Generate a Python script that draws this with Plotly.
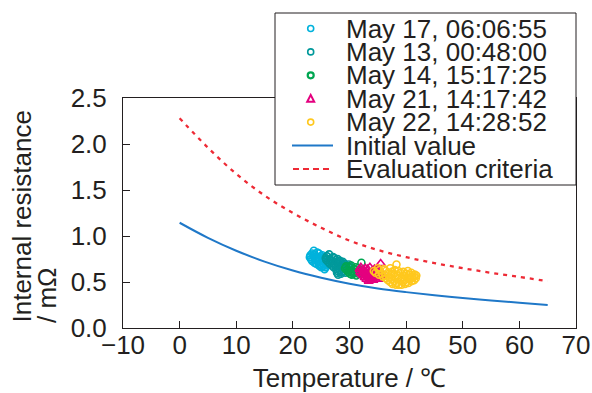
import plotly.graph_objects as go

# ---------------- data ----------------
curve_temp = [0, 5, 10, 15, 20, 25, 30, 35, 40, 45, 50, 55, 60, 65]
initial_value = [1.144, 0.980, 0.840, 0.722, 0.625, 0.547, 0.482, 0.430, 0.390, 0.356, 0.327, 0.300, 0.274, 0.250]
evaluation_criteria = [2.28, 1.96, 1.675, 1.44, 1.25, 1.09, 0.950, 0.848, 0.770, 0.705, 0.650, 0.600, 0.555, 0.510]

names = ["May 17, 06:06:55", "May 13, 00:48:00", "May 14, 15:17:25",
         "May 21, 14:17:42", "May 22, 14:28:52"]

may17_t = [23.7,
           23.4, 24.3,
           23.1, 23.8, 24.6, 25.2,
           23.0, 23.6, 24.2, 24.9, 25.5, 26.0,
           23.2, 23.9, 24.5, 25.1, 25.7, 26.2,
           23.4, 24.0, 24.7, 25.3, 25.9,
           23.8, 24.4, 25.0, 25.6, 26.1,
           24.1, 24.8, 25.4, 26.0,
           24.6, 25.2, 25.8,
           25.0, 25.6, 25.5]
may17_r = [0.84,
           0.81, 0.82,
           0.79, 0.80, 0.81, 0.79,
           0.77, 0.78, 0.77, 0.78, 0.77, 0.78,
           0.75, 0.76, 0.75, 0.76, 0.75, 0.74,
           0.73, 0.74, 0.73, 0.74, 0.72,
           0.71, 0.72, 0.71, 0.72, 0.70,
           0.70, 0.69, 0.70, 0.68,
           0.68, 0.67, 0.66,
           0.66, 0.64, 0.68]

may13_t = [26.4,
           26.0, 27.1,
           25.8, 26.5, 27.3, 27.9,
           25.9, 26.8, 27.6, 28.3, 28.8,
           26.2, 27.0, 27.8, 28.5, 29.1,
           26.5, 27.3, 28.1, 28.8, 29.4, 29.9,
           26.9, 27.6, 28.4, 29.1, 29.7, 30.2,
           27.2, 28.0, 28.7, 29.4, 30.0,
           27.6, 28.3, 29.0, 29.7,
           27.9, 28.6, 29.3,
           27.8, 28.5,
           28.0]
may13_r = [0.80,
           0.78, 0.77,
           0.76, 0.75, 0.76, 0.75,
           0.74, 0.73, 0.74, 0.73, 0.72,
           0.72, 0.71, 0.72, 0.71, 0.70,
           0.70, 0.69, 0.70, 0.69, 0.68, 0.69,
           0.68, 0.67, 0.68, 0.66, 0.67, 0.66,
           0.66, 0.65, 0.64, 0.65, 0.63,
           0.64, 0.63, 0.62, 0.61,
           0.62, 0.61, 0.60,
           0.60, 0.59,
           0.58]

may14_t = [32.1,
           29.4, 30.3, 31.1,
           29.2, 30.0, 30.8, 31.5,
           29.5, 30.3, 31.1, 31.7,
           29.8, 30.6, 31.4,
           30.1, 30.9, 31.6,
           30.4, 31.2,
           30.7]
may14_r = [0.71,
           0.67, 0.68, 0.66,
           0.65, 0.66, 0.64, 0.65,
           0.63, 0.62, 0.63, 0.62,
           0.61, 0.60, 0.61,
           0.59, 0.60, 0.59,
           0.58, 0.57,
           0.59]

may21_t = [35.5,
           32.0, 32.8, 33.6, 34.4,
           31.8, 32.5, 33.2, 34.0, 34.8, 35.4,
           31.9, 32.6, 33.4, 34.2, 35.0, 35.6,
           32.1, 32.9, 33.7, 34.5, 35.2, 35.8,
           32.4, 33.2, 34.0, 34.8, 35.5,
           32.7, 33.5, 34.3, 35.1,
           33.0, 33.8, 34.6,
           33.4, 34.2]
may21_r = [0.70,
           0.66, 0.65, 0.66, 0.64,
           0.64, 0.63, 0.64, 0.62, 0.63, 0.62,
           0.61, 0.62, 0.60, 0.61, 0.60, 0.61,
           0.59, 0.58, 0.59, 0.58, 0.59, 0.57,
           0.57, 0.56, 0.57, 0.55, 0.56,
           0.55, 0.54, 0.55, 0.53,
           0.53, 0.52, 0.53,
           0.51, 0.52]

may22_t = [38.3,
           35.0, 36.1, 37.2, 38.0,
           34.3, 35.3, 36.4, 37.5, 38.6, 39.5, 40.3,
           34.6, 35.7, 36.8, 37.9, 39.0, 40.0, 40.9, 41.5,
           35.2, 36.3, 37.4, 38.5, 39.6, 40.6, 41.4, 41.8,
           35.9, 37.0, 38.1, 39.2, 40.3, 41.1, 41.7,
           36.4, 37.5, 38.6, 39.7, 40.7, 41.4,
           36.8, 37.9, 39.0, 40.1, 41.0,
           37.2, 38.3, 39.4, 40.4,
           37.6, 38.7, 39.8,
           38.2, 39.2]
may22_r = [0.69,
           0.65, 0.64, 0.65, 0.63,
           0.62, 0.63, 0.62, 0.61, 0.62, 0.61, 0.62,
           0.60, 0.59, 0.60, 0.59, 0.60, 0.59, 0.60, 0.58,
           0.58, 0.57, 0.58, 0.57, 0.57, 0.58, 0.56, 0.57,
           0.56, 0.55, 0.56, 0.55, 0.54, 0.55, 0.54,
           0.54, 0.53, 0.54, 0.52, 0.53, 0.52,
           0.52, 0.51, 0.52, 0.50, 0.51,
           0.50, 0.49, 0.50, 0.49,
           0.48, 0.47, 0.48,
           0.47, 0.47]

x_ticks = [-10, 0, 10, 20, 30, 40, 50, 60, 70]
y_ticks = [0.0, 0.5, 1.0, 1.5, 2.0, 2.5]

# ---------------- style ----------------
FONT = "Liberation Sans, Arial, sans-serif"
INK = "#231f20"
colors = ["#00b2dc", "#00999b", "#00a651", "#e4007f", "#ffc81e"]
symbols = ["circle-open", "circle-open", "circle-open", "triangle-up-open", "circle-open"]
BLUE = "#1f78c8"
RED = "#ee2a35"

W, H = 592, 393
L, R, T, B = 123, 16, 98, 65
PW, PH = W - L - R, H - T - B


def px(xp):
    return (xp - L) / PW


def py(yp):
    return (H - B - yp) / PH


fig = go.Figure()

fig.add_trace(go.Scatter(x=curve_temp, y=initial_value, mode="lines", name="Initial value",
                         showlegend=False, line=dict(color=BLUE, width=2, shape="spline")))
fig.add_trace(go.Scatter(x=curve_temp, y=evaluation_criteria, mode="lines",
                         name="Evaluation criteria", showlegend=False,
                         line=dict(color=RED, width=2.3, dash="4px,5px", shape="spline")))

series = [(may17_t, may17_r), (may13_t, may13_r), (may14_t, may14_r),
          (may21_t, may21_r), (may22_t, may22_r)]
for (t, r), name, c, s in zip(series, names, colors, symbols):
    fig.add_trace(go.Scatter(
        x=t, y=r, mode="markers", name=name, showlegend=False,
        marker=dict(symbol=s, size=8 if "triangle" in s else 7, color=c,
                    line=dict(width=1.6, color=c))))

axis_common = dict(showline=True, linecolor=INK, linewidth=1, mirror=True,
                   ticks="inside", ticklen=7, tickwidth=1, tickcolor=INK,
                   showgrid=False, zeroline=False,
                   tickfont=dict(family=FONT, size=26, color=INK))

fig.update_xaxes(range=[-10, 70], tickvals=x_ticks,
                 ticktext=[str(v).replace("-", "\u2212") for v in x_ticks],
                 title=dict(text="Temperature / \u2103", font=dict(family=FONT, size=26, color=INK), standoff=14),
                 ticklabelstandoff=-6, **axis_common)
fig.update_yaxes(range=[0, 2.5], tickvals=y_ticks, ticktext=[f"{v:.1f}" for v in y_ticks],
                 ticklabelstandoff=10, **axis_common)

# ---------------- custom legend (tight rows like the reference) ----------------
shapes = [dict(type="rect", xref="paper", yref="paper", layer="above",
               x0=px(275), x1=px(576), y0=py(185), y1=py(13),
               fillcolor="white", line=dict(color=INK, width=1))]
annotations = []
row_y = [28.5, 51.9, 75.3, 98.7, 122.1, 145.5, 168.9]
labels = names + ["Initial value", "Evaluation criteria"]
for i, lab in enumerate(labels):
    annotations.append(dict(x=px(344), y=py(row_y[i]), xref="paper", yref="paper",
                            xanchor="left", yanchor="middle", showarrow=False, text=lab,
                            font=dict(family=FONT, size=26, color=INK)))
for i in range(5):
    cx, cy = px(310.7), py(row_y[i])
    if "triangle" in symbols[i]:
        shapes.append(dict(type="path", xref="paper", yref="paper", layer="above",
                           xsizemode="pixel", ysizemode="pixel", xanchor=cx, yanchor=cy,
                           path="M-3.5,-3 L3.5,-3 L0,3.8 Z", fillcolor="white",
                           line=dict(color=colors[i], width=2)))
    else:
        shapes.append(dict(type="circle", xref="paper", yref="paper", layer="above",
                           xsizemode="pixel", ysizemode="pixel", xanchor=cx, yanchor=cy,
                           x0=-3, x1=3, y0=-3, y1=3, fillcolor="white",
                           line=dict(color=colors[i], width=1.6 if i != 2 else 2.2)))
shapes.append(dict(type="line", xref="paper", yref="paper", layer="above",
                   x0=px(292), x1=px(333), y0=py(row_y[5]), y1=py(row_y[5]),
                   line=dict(color=BLUE, width=2)))
shapes.append(dict(type="line", xref="paper", yref="paper", layer="above",
                   x0=px(293), x1=px(331), y0=py(row_y[6]), y1=py(row_y[6]),
                   line=dict(color=RED, width=2, dash="6px,4px")))

# y-axis title as two left-aligned rotated lines
annotations.append(dict(x=px(21.5), y=py(325), xref="paper", yref="paper", textangle=-90,
                        xanchor="center", yanchor="bottom", showarrow=False,
                        text="Internal resistance", font=dict(family=FONT, size=26, color=INK)))
annotations.append(dict(x=px(47), y=py(325), xref="paper", yref="paper", textangle=-90,
                        xanchor="center", yanchor="bottom", showarrow=False,
                        text="/ m\u03a9", font=dict(family=FONT, size=26, color=INK)))

fig.update_layout(width=W, height=H, margin=dict(l=L, r=R, t=T, b=B, autoexpand=False),
                  paper_bgcolor="white", plot_bgcolor="white", showlegend=False,
                  shapes=shapes, annotations=annotations,
                  font=dict(family=FONT, color=INK))

fig.write_html("out.html")
